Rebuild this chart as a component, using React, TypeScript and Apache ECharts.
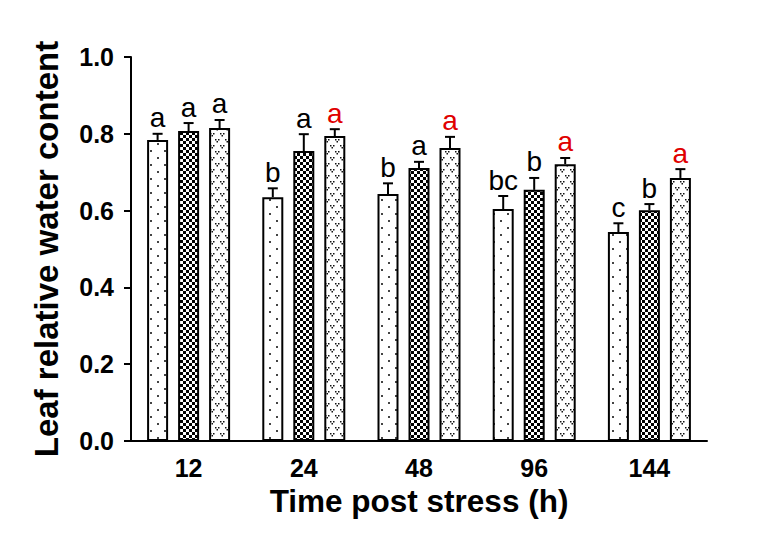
import React, { useEffect, useRef } from "react";
import * as echarts from "echarts";

const categories = ["12", "24", "48", "96", "144"];
const series1 = [0.784, 0.635, 0.643, 0.604, 0.544];
const series2 = [0.807, 0.755, 0.711, 0.654, 0.601];
const series3 = [0.815, 0.794, 0.763, 0.721, 0.685];
const err1 = [0.016, 0.023, 0.028, 0.034, 0.023];
const err2 = [0.021, 0.044, 0.016, 0.031, 0.016];
const err3 = [0.021, 0.018, 0.029, 0.016, 0.023];
const letters1 = ["a", "b", "b", "bc", "c"];
const letters2 = ["a", "a", "a", "b", "b"];
const letters3 = ["a", "a", "a", "a", "a"];
const red3 = [false, true, true, true, true];
const yTicks = [0, 0.2, 0.4, 0.6, 0.8, 1.0];

const FONT = '"Liberation Sans", Arial, Helvetica, sans-serif';

function makeCanvas(w: number, h: number, draw: (ctx: CanvasRenderingContext2D) => void) {
  const c = document.createElement("canvas");
  c.width = w;
  c.height = h;
  const ctx = c.getContext("2d")!;
  ctx.fillStyle = "#ffffff";
  ctx.fillRect(0, 0, w, h);
  ctx.fillStyle = "#000000";
  draw(ctx);
  return c;
}

export default function App() {
  const ref = useRef<HTMLDivElement>(null);
  useEffect(() => {
    document.body.style.margin = "0";
    if (!ref.current) return;
    const chart = echarts.init(ref.current, undefined, { renderer: "svg" });

    const dots = makeCanvas(14, 14, (ctx) => {
      ctx.fillStyle = "#444";
      ctx.fillRect(3, 3, 2, 2);
      ctx.fillRect(10, 10, 2, 2);
    });
    const checker = makeCanvas(6, 6, (ctx) => {
      ctx.fillRect(0, 0, 3, 3);
      ctx.fillRect(3, 3, 3, 3);
    });
    const vees = makeCanvas(10, 12, (ctx) => {
      ctx.fillStyle = "#111";
      const v = (x: number, y: number) => {
        ctx.fillRect(x, y, 1.5, 1.5);
        ctx.fillRect(x + 3, y, 1.5, 1.5);
        ctx.fillRect(x + 1.5, y + 2, 1.5, 1.5);
      };
      v(0, 1);
      v(5, 7);
    });

    const barW = 21;
    const gap = 10;
    const offsets = [-(barW + gap), 0, barW + gap];
    const vals = [series1, series2, series3];
    const errs = [err1, err2, err3];
    const lets = [letters1, letters2, letters3];
    const patterns = [dots, checker, vees];

    const barSeries = vals.map((v, i) => ({
      type: "bar",
      data: v,
      barWidth: barW,
      barGap: `${(gap / barW) * 100}%`,
      itemStyle: {
        color: { image: patterns[i], repeat: "repeat" },
        borderColor: "#000",
        borderWidth: 2,
      },
      z: 2,
    }));

    const errSeries = vals.map((v, i) => ({
      type: "custom",
      z: 5,
      clip: false,
      data: v.map((val, j) => [j, val, errs[i][j]]),
      renderItem: (params: any, api: any) => {
        const c = api.value(0);
        const val = api.value(1);
        const e = api.value(2);
        const base = api.coord([c, val]);
        const top = api.coord([c, val + e]);
        const x = base[0] + offsets[i];
        const capW = 10;
        const isRed = i === 2 && red3[params.dataIndex];
        return {
          type: "group",
          children: [
            {
              type: "line",
              shape: { x1: x, y1: base[1], x2: x, y2: top[1] },
              style: { stroke: "#000", lineWidth: 2 },
            },
            {
              type: "line",
              shape: { x1: x - capW / 2, y1: top[1], x2: x + capW / 2, y2: top[1] },
              style: { stroke: "#000", lineWidth: 2 },
            },
            {
              type: "text",
              x: x,
              y: top[1] - 2,
              style: {
                text: lets[i][params.dataIndex],
                fontSize: 28,
                fontFamily: FONT,
                fill: isRed ? "#e00000" : "#000",
                align: "center",
                verticalAlign: "bottom",
              },
            },
          ],
        };
      },
    }));

    chart.setOption({
      animation: false,
      grid: { left: 131, right: 77, top: 57, bottom: 103, containLabel: false },
      xAxis: {
        type: "category",
        data: categories,
        name: "Time post stress (h)",
        nameLocation: "middle",
        nameGap: 43,
        nameTextStyle: { fontSize: 31.5, fontWeight: "bold", fontFamily: FONT, color: "#000", verticalAlign: "top" },
        axisLine: { lineStyle: { color: "#000", width: 2 } },
        axisTick: { alignWithLabel: true, length: 8, lineStyle: { color: "#000", width: 2 } },
        axisLabel: { fontSize: 25, fontWeight: "bold", fontFamily: FONT, color: "#000", margin: 14 },
      },
      yAxis: {
        type: "value",
        min: yTicks[0],
        max: yTicks[yTicks.length - 1],
        interval: 0.2,
        name: "Leaf relative water content",
        nameLocation: "middle",
        nameGap: 68,
        nameTextStyle: { fontSize: 33, fontWeight: "bold", fontFamily: FONT, color: "#000" },
        axisLine: { show: true, lineStyle: { color: "#000", width: 2 } },
        axisTick: { show: true, length: 7, lineStyle: { color: "#000", width: 2 } },
        axisLabel: {
          fontSize: 25,
          fontWeight: "bold",
          fontFamily: FONT,
          color: "#000",
          margin: 17,
          formatter: (v: number) => v.toFixed(1),
        },
        splitLine: { show: false },
      },
      series: [...barSeries, ...errSeries],
    } as any);
    return () => chart.dispose();
  }, []);
  return <div ref={ref} style={{ width: 784, height: 544 }} />;
}
